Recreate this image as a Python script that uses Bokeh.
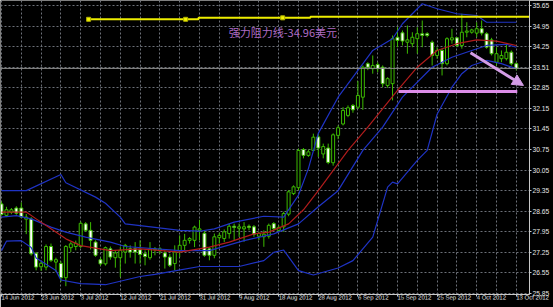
from bokeh.plotting import figure
from bokeh.models import (ColumnDataSource, FixedTicker, Span, Label, Arrow,
                          NormalHead, Range1d)
from bokeh.embed import file_html
from bokeh.resources import INLINE

# ---------------- data ----------------
opens = [28.90, 28.51, 28.62, 28.76, 28.76, 28.38, 28.39, 27.22, 26.76, 26.75,
         27.45, 26.92, 26.87, 26.39, 27.41, 27.45, 27.45, 28.22, 28.00, 27.60,
         27.00, 26.86, 27.37, 27.07, 27.07, 27.26, 27.37, 27.37, 27.34, 27.20,
         27.07, 27.34, 27.30, 27.23, 27.09, 26.87, 27.30, 27.49, 27.66, 27.66,
         28.00, 27.90, 27.37, 27.15, 27.75, 27.72, 27.89, 28.14, 28.07, 28.05,
         28.14, 28.12, 27.80, 27.78, 27.80, 28.23, 28.00, 28.12, 28.55, 29.25,
         29.45, 30.75, 30.55, 30.72, 31.18, 30.60, 30.80, 30.30, 31.23, 31.62,
         31.91, 32.25, 32.19, 32.53, 33.67, 33.50, 33.64, 33.55, 32.93, 32.99,
         34.57, 34.72, 34.40, 34.35, 34.52, 34.69, 34.69, 34.40, 33.95, 34.12,
         33.67, 34.48, 34.55, 34.29, 34.74, 34.74, 34.71, 34.86, 34.69, 34.48,
         33.72, 33.84, 33.84, 34.06, 33.67]
highs = [28.98, 28.80, 28.76, 28.82, 28.95, 28.56, 28.45, 27.26, 26.95, 27.52,
         27.55, 27.07, 26.95, 27.50, 27.60, 27.65, 28.30, 28.28, 28.28, 27.66,
         27.07, 27.45, 27.45, 27.32, 27.43, 27.54, 27.49, 27.60, 27.66, 27.32,
         27.60, 27.43, 27.43, 27.32, 27.20, 27.49, 27.83, 27.88, 27.77, 28.16,
         28.36, 28.00, 27.43, 27.89, 27.92, 28.03, 28.23, 28.23, 28.23, 28.28,
         28.20, 28.18, 27.95, 28.00, 28.23, 28.28, 28.17, 28.63, 29.37, 29.53,
         30.78, 30.80, 30.75, 31.29, 31.29, 30.95, 30.95, 31.30, 31.57, 32.19,
         32.25, 32.30, 33.08, 33.61, 33.72, 33.95, 33.72, 33.61, 33.21, 34.63,
         34.91, 34.80, 34.97, 34.74, 34.91, 35.14, 34.74, 34.46, 34.23, 34.18,
         34.57, 34.86, 34.57, 35.37, 35.08, 34.86, 35.08, 35.14, 34.74, 34.55,
         34.23, 34.12, 34.35, 34.12, 33.72]
lows = [28.50, 28.45, 28.55, 28.53, 28.42, 27.87, 27.14, 26.64, 26.62, 26.64,
        26.92, 26.58, 26.25, 26.10, 27.26, 27.32, 27.40, 27.95, 27.35, 27.10,
        26.80, 26.80, 27.00, 26.73, 26.41, 26.87, 27.07, 26.87, 26.87, 26.81,
        27.00, 27.15, 27.20, 26.70, 26.75, 26.64, 27.09, 27.32, 27.55, 27.43,
        27.66, 27.10, 26.98, 27.05, 27.55, 27.60, 27.72, 27.67, 27.78, 27.61,
        28.00, 27.78, 27.67, 27.44, 27.72, 28.00, 27.95, 27.95, 28.48, 29.20,
        29.37, 30.45, 30.50, 30.70, 30.50, 30.45, 30.25, 30.20, 31.10, 31.57,
        31.85, 32.00, 32.13, 32.10, 33.45, 33.33, 33.38, 32.87, 32.85, 32.42,
        34.23, 34.29, 34.01, 34.23, 34.01, 34.23, 34.57, 33.61, 33.84, 33.27,
        33.61, 34.35, 34.23, 34.18, 34.57, 34.69, 34.57, 34.63, 34.18, 33.95,
        33.61, 33.72, 33.78, 33.61, 33.44]
closes = [28.54, 28.70, 28.70, 28.58, 28.45, 28.45, 27.20, 26.75, 26.88, 27.45,
          26.98, 27.00, 26.39, 27.45, 27.54, 27.56, 28.24, 28.00, 27.66, 27.15,
          26.86, 27.41, 27.09, 27.23, 27.32, 27.49, 27.26, 27.26, 27.18, 27.11,
          27.37, 27.37, 27.37, 27.09, 26.81, 27.26, 27.49, 27.66, 27.72, 28.11,
          28.05, 27.15, 27.15, 27.78, 27.83, 27.95, 28.14, 28.10, 28.12, 28.12,
          28.10, 27.87, 27.89, 27.87, 28.17, 28.06, 28.10, 28.57, 29.31, 29.48,
          30.72, 30.55, 30.67, 31.17, 30.80, 30.85, 30.31, 31.25, 31.49, 32.08,
          32.17, 32.10, 32.59, 33.55, 33.55, 33.61, 33.50, 32.99, 33.16, 34.52,
          34.46, 34.44, 34.48, 34.57, 34.69, 34.63, 34.63, 33.95, 34.12, 33.67,
          34.52, 34.55, 34.29, 34.74, 34.78, 34.82, 34.86, 34.71, 34.23, 34.01,
          34.01, 33.95, 34.06, 33.67, 33.51]

date_tick_bars = [0, 8, 16, 24, 32, 40, 48, 56, 64, 72, 80, 88, 96, 104]
date_labels = ["14 Jun 2012", "23 Jun 2012", "3 Jul 2012", "12 Jul 2012",
               "21 Jul 2012", "31 Jul 2012", "9 Aug 2012", "18 Aug 2012",
               "28 Aug 2012", "6 Sep 2012", "15 Sep 2012", "25 Sep 2012",
               "4 Oct 2012", "13 Oct 2012"]
price_ticks = [25.85, 26.55, 27.25, 27.95, 28.65, 29.35, 30.05, 30.75,
               31.45, 32.15, 32.85, 33.55, 34.25, 34.95, 35.65]
last_price = 33.51

# Bollinger upper band
ub_bar = [0, 5, 12, 13, 19, 21, 24, 25, 31, 36, 40, 43, 47, 53, 57, 60, 62,
          64, 68, 75, 79, 81, 85, 88, 92, 96, 98, 104]
ub_val = [29.35, 29.35, 29.90, 29.62, 29.13, 28.92, 28.45, 28.22, 28.10, 28.00,
          27.97, 28.05, 28.28, 28.48, 28.45, 29.20, 30.10, 31.30, 32.53, 34.12,
          34.52, 35.03, 35.71, 35.54, 35.37, 35.31, 35.08, 35.08]
# red moving average (band middle)
ma_bar = [0, 5, 7, 10, 13, 16, 22, 28, 36, 42, 46, 51, 54, 58, 61, 64, 70,
          74, 80, 84, 88, 92, 96, 100, 104]
ma_val = [28.62, 28.62, 28.39, 28.05, 27.71, 27.48, 27.31, 27.37, 27.26, 27.43,
          27.60, 27.88, 27.94, 28.22, 28.70, 29.35, 30.72, 31.51, 32.76, 33.55,
          34.12, 34.35, 34.48, 34.44, 34.29]
# second blue average
b2_bar = [0, 3, 6, 10, 13, 17, 22, 25, 36, 42, 49, 55, 60, 64, 68, 73, 77,
          81, 87, 91, 95, 98, 102, 104]
b2_val = [28.45, 28.50, 28.39, 28.11, 27.94, 27.77, 27.60, 27.45, 27.31, 27.31,
          27.65, 27.88, 28.22, 28.80, 29.35, 30.72, 31.51, 32.53, 33.55, 33.89,
          34.12, 34.29, 34.33, 34.23]
# Bollinger lower band
lb_bar = [0, 1, 4, 6, 7, 11, 12, 16, 21, 28, 31, 35, 40, 48, 53, 55, 57, 60,
          63, 68, 71, 75, 78, 79, 80, 84, 86, 88, 91, 93, 95, 98, 101, 104]
lb_val = [27.31, 27.63, 27.65, 27.42, 27.06, 26.63, 26.31, 26.19, 26.15, 26.43,
          26.50, 26.62, 26.77, 26.77, 26.97, 27.25, 27.33, 26.63, 26.48, 26.72,
          26.97, 27.77, 29.47, 29.64, 29.58, 30.38, 30.72, 31.95, 32.87, 33.33,
          33.61, 33.78, 33.67, 33.50]

# resistance line (yellow) and its anchor points
res_x = [17.6, 39.8, 39.8, 62.4, 62.4, 106.7]
res_y = [35.18, 35.18, 35.23, 35.23, 35.27, 35.27]
res_pt_x = [17.6, 37.2, 56.8]
res_pt_y = [35.18, 35.18, 35.23]
res_text = "强力阻力线-34.96美元"
res_text_pos = (45.9, 34.765)
# support line (pink) and arrow
sup_x = [80.2, 104.2]
sup_y = [32.72, 32.72]
arrow_from = (94.75, 34.04)
arrow_to = (105.45, 32.93)

# ---------------- styles ----------------
GREEN = "#3cba00"
BLUE = "#1f33c4"
RED = "#b01c1c"
GRID = "#6c7078"
AXIS = "#c8c8c8"
LABEL = "#e6e6e6"

bars = list(range(len(opens)))
src = ColumnDataSource(dict(
    i=bars, o=opens, h=highs, l=lows, c=closes,
    top=[max(a, b) for a, b in zip(opens, closes)],
    bot=[min(a, b) for a, b in zip(opens, closes)],
    fill=["#ffffff" if c < o else "#000000" for o, c in zip(opens, closes)],
))

p = figure(width=553, height=307,
           x_range=Range1d(-0.202, 106.667), y_range=Range1d(25.817, 35.82),
           output_backend="svg", toolbar_location=None, y_axis_location="right",
           min_border_left=0, min_border_top=0, min_border_right=24,
           min_border_bottom=13, background_fill_color="black",
           border_fill_color="black", outline_line_color=None)

# grid
p.xgrid.ticker = FixedTicker(ticks=list(range(0, 105, 4)))
p.ygrid.ticker = FixedTicker(ticks=price_ticks)
for g in (p.xgrid, p.ygrid):
    g.grid_line_color = GRID
    g.grid_line_dash = "2 2"
    g.grid_line_width = 1

# axes
p.yaxis.ticker = FixedTicker(ticks=price_ticks)
ov = {t: f"{t:.2f}" for t in price_ticks}
ov[33.55] = f"{last_price:.2f}"
p.yaxis.major_label_overrides = ov
p.xaxis.ticker = FixedTicker(ticks=date_tick_bars)
p.xaxis.major_label_overrides = dict(zip(date_tick_bars, date_labels))
p.xaxis.major_label_orientation = -0.0005
p.yaxis.major_label_text_font_size = "6.7px"
p.xaxis.major_label_text_font_size = "6px"
for ax in (p.xaxis, p.yaxis):
    ax.major_label_text_font = "Liberation Sans"
    ax.major_label_text_color = LABEL
    ax.axis_line_color = AXIS
    ax.major_tick_line_color = AXIS
    ax.minor_tick_line_color = None
    ax.major_tick_in = 0
    ax.major_tick_out = 2
    ax.major_label_standoff = 1

# current price line
p.add_layout(Span(location=last_price, dimension="width",
                  line_color="#8c8c8c", line_width=1))

# candles
p.segment(x0="i", y0="l", x1="i", y1="h", source=src, line_color=GREEN, line_width=1)
p.vbar(x="i", width=0.6, top="top", bottom="bot", source=src,
       fill_color="fill", line_color=GREEN, line_width=1)

# indicator lines
p.line(ub_bar, ub_val, line_color=BLUE, line_width=1.2)
p.line(lb_bar, lb_val, line_color=BLUE, line_width=1.2)
p.line(b2_bar, b2_val, line_color=BLUE, line_width=1.2)
p.line(ma_bar, ma_val, line_color=RED, line_width=1.2)

# resistance line
p.line(res_x, res_y, line_color="#eded00", line_width=2)
p.scatter(res_pt_x, res_pt_y, marker="square", size=4,
          fill_color="#f4f400", line_color="#b0b000")
p.add_layout(Label(x=res_text_pos[0], y=res_text_pos[1], text=res_text,
                   text_font="Noto Sans CJK SC", text_font_size="11px",
                   text_color="#ae6cc4", text_baseline="middle"))

# support line and arrow
p.line(sup_x, sup_y, line_color="#dc8ce8", line_width=3)
AC = "#d49de6"
p.add_layout(Arrow(end=NormalHead(size=11, fill_color=AC, line_color=AC),
                   x_start=arrow_from[0], y_start=arrow_from[1],
                   x_end=arrow_to[0], y_end=arrow_to[1],
                   line_color=AC, line_width=3))

open("out.html", "w").write(file_html(p, INLINE))
